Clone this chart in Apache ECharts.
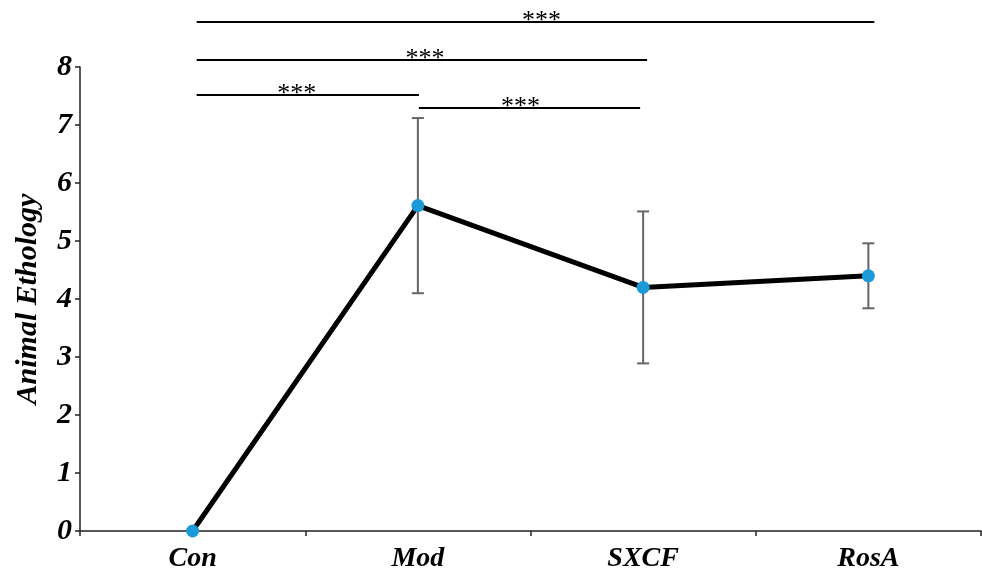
<!DOCTYPE html>
<html>
<head>
<meta charset="utf-8">
<script src="https://cdn.jsdelivr.net/npm/echarts@6/dist/echarts.min.js"></script>
<style>
  html, body { margin: 0; padding: 0; background: #fff; }
  #chart { width: 982px; height: 571px; }
</style>
</head>
<body>
<div id="chart"></div>
<script>
// Groups on the x axis
const categories = ['Con', 'Mod', 'SXCF', 'RosA'];
// Group means and their error (± half-range)
const means = [0, 5.61, 4.2, 4.4];
const errors = [0, 1.51, 1.31, 0.56];
// Y-axis range and step
const yMin = 0;
const yMax = 8;
const yStep = 1;
// Significance brackets: [from group, to group, height in y units, label]
const brackets = [
  [0, 3, 8.77, '***'],
  [0, 2, 8.12, '***'],
  [0, 1, 7.52, '***'],
  [1, 2, 7.29, '***']
];

const FONT = '"Liberation Serif", "Times New Roman", serif';

// horizontal nudges (px) for each bracket: [line start, line end, label]
const bracketNudge = [
  [4, 6, 6],
  [4, 4, 3],
  [4, 1, -11],
  [1, -3, -9]
];

const chart = echarts.init(document.getElementById('chart'), null, { renderer: 'canvas' });

const errorData = means.map((m, i) => [i, m - errors[i], m + errors[i]]);

chart.setOption({
  animation: false,
  backgroundColor: '#fff',
  grid: { left: 80, right: 1, top: 67, bottom: 40, containLabel: false, outerBoundsMode: 'none' },
  xAxis: {
    type: 'category',
    data: categories,
    boundaryGap: true,
    axisLine: { lineStyle: { color: '#222', width: 1.5 } },
    axisTick: { show: true, inside: false, length: 5, lineStyle: { color: '#222', width: 1.5 } },
    axisLabel: {
      color: '#000', fontFamily: FONT, fontSize: 28, fontWeight: 'bold', fontStyle: 'italic', margin: 14
    },
    splitLine: { show: false }
  },
  yAxis: {
    type: 'value',
    min: yMin, max: yMax, interval: yStep,
    name: 'Animal Ethology',
    nameLocation: 'middle',
    nameGap: 37,
    nameRotate: 90,
    nameTextStyle: { color: '#000', fontFamily: FONT, fontSize: 30, fontWeight: 'bold', fontStyle: 'italic' },
    axisLine: { show: true, lineStyle: { color: '#222', width: 1.5 } },
    axisTick: { show: true, inside: false, length: 5, lineStyle: { color: '#222', width: 1.5 } },
    axisLabel: {
      color: '#000', fontFamily: FONT, fontSize: 30, fontWeight: 'bold', fontStyle: 'italic', margin: 8
    },
    splitLine: { show: false }
  },
  series: [
    {
      // error bars with caps
      type: 'custom',
      z: 1,
      data: errorData,
      renderItem: function (params, api) {
        const x = api.value(0);
        const lo = api.coord([x, api.value(1)]);
        const hi = api.coord([x, api.value(2)]);
        const cap = 6;
        const style = { stroke: '#666', lineWidth: 2 };
        return {
          type: 'group',
          children: [
            { type: 'line', shape: { x1: lo[0], y1: lo[1], x2: hi[0], y2: hi[1] }, style: style },
            { type: 'line', shape: { x1: hi[0] - cap, y1: hi[1], x2: hi[0] + cap, y2: hi[1] }, style: style },
            { type: 'line', shape: { x1: lo[0] - cap, y1: lo[1], x2: lo[0] + cap, y2: lo[1] }, style: style }
          ]
        };
      }
    },
    {
      type: 'line',
      z: 3,
      data: means,
      symbol: 'circle',
      symbolSize: 13,
      lineStyle: { color: '#000', width: 5 },
      itemStyle: { color: '#1a9ad7', borderWidth: 0 },
      label: { show: false }
    },
    {
      // significance brackets
      type: 'custom',
      z: 2,
      clip: false,
      data: brackets.map(b => [b[0], b[1], b[2]]),
      renderItem: function (params, api) {
        const b = brackets[params.dataIndex];
        const n = bracketNudge[params.dataIndex];
        const p1 = api.coord([b[0], b[2]]);
        const p2 = api.coord([b[1], b[2]]);
        const x1 = p1[0] + n[0];
        const x2 = p2[0] + n[1];
        const y = Math.round(p1[1]);
        return {
          type: 'group',
          children: [
            { type: 'line', shape: { x1: x1, y1: y, x2: x2, y2: y }, style: { stroke: '#000', lineWidth: 2 } },
            {
              type: 'text',
              style: {
                text: b[3], x: (x1 + x2) / 2 + n[2], y: y + 12,
                textAlign: 'center', textVerticalAlign: 'bottom',
                fill: '#000', font: 'normal 26px ' + FONT
              }
            }
          ]
        };
      }
    }
  ]
});
</script>
</body>
</html>
